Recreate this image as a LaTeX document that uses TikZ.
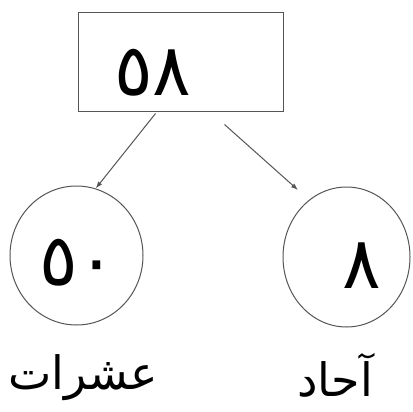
\documentclass[tikz,border=0pt]{standalone}
\usepackage{fontspec}
\usetikzlibrary{shapes.geometric,arrows.meta,calc}
\TeXXeTstate=1
\newfontfamily\arabicfont[Script=Arabic]{DejaVu Sans}
\newfontfamily\digitfont{DejaVu Sans}
\definecolor{ln}{RGB}{85,85,85}
\tikzset{
  boxnode/.style={draw=ln, line width=1pt, rectangle, minimum width=205pt, minimum height=98pt, inner sep=0pt},
  ellnode/.style={draw=ln, line width=1pt, ellipse, inner sep=0pt},
  digits/.style={font=\digitfont\fontsize{72}{72}\selectfont, inner sep=0pt},
  word/.style={font=\arabicfont\fontsize{46}{46}\selectfont, inner sep=0pt},
  arr/.style={draw=ln, line width=1pt, -{Latex[length=7pt,width=5pt]}}
}
\begin{document}
\begin{tikzpicture}[x=1pt,y=-1pt]
\useasboundingbox (0,0) rectangle (412,412);
\fill[white] (0,0) rectangle (412,412);
\node[boxnode] (top) at (180.5,62) {};
\node[digits] (t58) at (153,73) {٥٨};
\node[ellnode, minimum width=133pt, minimum height=139pt] (tens) at (76.5,255.5) {};
\node[ellnode, minimum width=127pt, minimum height=140pt] (ones) at (346.5,257) {};
\node[digits] (t50) at (78,263) {٥٠};
\node[digits] (t8) at (362,266) {٨};
\node[word] (ltens) at (83,378) {\beginR عشرات\endR};
\node[word] (lones) at (335,375) {\beginR آحاد\endR};
\draw[arr] ($(top.south west)+(78,2)$) -- (tens.74);
\draw[arr] ($(top.south west)+(147,13)$) -- ($(ones.center)+(-48.5,-67)$);
\end{tikzpicture}
\end{document}
